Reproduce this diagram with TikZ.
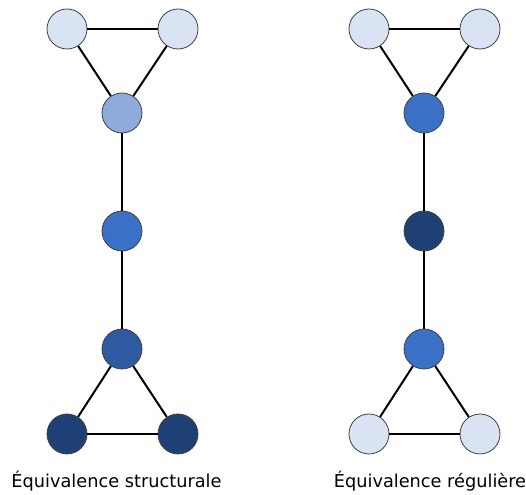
\documentclass[tikz,border=0pt]{standalone}
\usepackage{fontspec}
\setmainfont{DejaVu Sans}
\usepackage{xcolor}
\usetikzlibrary{positioning, calc}
\definecolor{lightblue}{HTML}{DAE3F3}
\definecolor{midblue}{HTML}{8FAADC}
\definecolor{plainblue}{HTML}{3A70C6}
\definecolor{deepblue}{HTML}{2E5B9F}
\definecolor{darkblue}{HTML}{1F4074}
\tikzset{
    vertex/.style={circle, draw=black!75, minimum size=30pt, inner sep=0pt, line width=0.6pt},
    tie/.style={draw, line width=1.5pt},
    caption/.style={font=\fontsize{13.3}{15}\selectfont}
}

\begin{document}
\begin{tikzpicture}[x=0.75pt, y=-0.75pt]
    \useasboundingbox (0,0) rectangle (526,495);
    % structural equivalence
    \node[vertex, fill=lightblue] (sa) at (67, 29) {};
    \node[vertex, fill=lightblue] (sb) at (178, 29) {};
    \node[vertex, fill=midblue] (sc) at (122, 113) {};
    \node[vertex, fill=plainblue] (sd) at (122, 231) {};
    \node[vertex, fill=deepblue] (se) at (122, 349) {};
    \node[vertex, fill=darkblue] (sf) at (67, 434) {};
    \node[vertex, fill=darkblue] (sg) at (178, 434) {};
    \node[caption] (slabel) at (116.5, 481) {Équivalence structurale};
    % regular equivalence
    \node[vertex, fill=lightblue] (ra) at (369, 29) {};
    \node[vertex, fill=lightblue] (rb) at (480, 29) {};
    \node[vertex, fill=plainblue] (rc) at (424, 113) {};
    \node[vertex, fill=darkblue] (rd) at (424, 231) {};
    \node[vertex, fill=plainblue] (re) at (424, 349) {};
    \node[vertex, fill=lightblue] (rf) at (369, 434) {};
    \node[vertex, fill=lightblue] (rg) at (480, 434) {};
    \node[caption] (rlabel) at (430, 481) {Équivalence régulière};
    \foreach \g in {s,r} {
        \draw[tie] (\g a) -- (\g b);
        \draw[tie] (\g a) -- (\g c);
        \draw[tie] (\g b) -- (\g c);
        \draw[tie] (\g c) -- (\g d);
        \draw[tie] (\g d) -- (\g e);
        \draw[tie] (\g e) -- (\g f);
        \draw[tie] (\g e) -- (\g g);
        \draw[tie] (\g f) -- (\g g);
    }
\end{tikzpicture}
\end{document}
